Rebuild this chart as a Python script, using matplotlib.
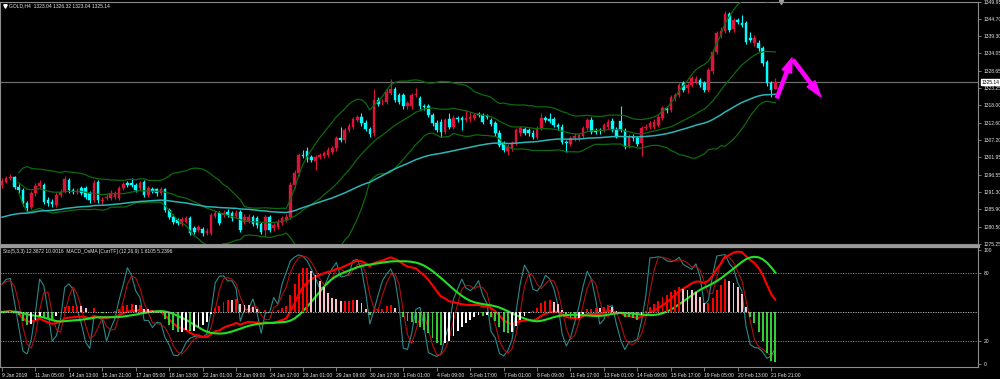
import numpy as np
import pandas as pd
import matplotlib
matplotlib.use("Agg")
import matplotlib.pyplot as plt
from matplotlib.lines import Line2D
import matplotlib.transforms as mtransforms

plt.rcParams["font.family"] = ["Liberation Sans", "DejaVu Sans"]

# ---------------- data ----------------
opens = [1293.4, 1294.4, 1295.4, 1295.8, 1292.9, 1291.8, 1287.7, 1286.7, 1290.8, 1293.1,
         1293.4, 1288.7, 1288.2, 1287.2, 1290.3, 1291.3, 1294.9, 1291.8, 1291.3, 1292.4,
         1292.4, 1290.8, 1288.7, 1294.4, 1288.5, 1289.3, 1289.3, 1289.8, 1289.3, 1292.4,
         1293.9, 1294.1, 1293.4, 1292.4, 1294.2, 1290.3, 1292.0, 1292.0, 1291.0, 1292.0,
         1285.7, 1283.6, 1282.6, 1281.3, 1282.1, 1283.1, 1280.0, 1279.5, 1279.7, 1278.5,
         1278.5, 1283.8, 1284.8, 1284.1, 1285.1, 1284.6, 1283.8, 1285.1, 1282.1, 1282.1,
         1283.4, 1283.1, 1281.3, 1279.5, 1283.4, 1280.0, 1280.5, 1281.6, 1282.6, 1283.6,
         1293.4, 1297.0, 1302.6, 1304.0, 1301.9, 1300.9, 1302.0, 1302.3, 1302.6, 1303.6,
         1304.7, 1307.8, 1307.2, 1310.3, 1311.4, 1313.4, 1314.3, 1312.6, 1310.6, 1309.3,
         1319.6, 1318.9, 1319.1, 1321.9, 1322.9, 1321.2, 1321.2, 1317.6, 1317.6, 1321.2,
         1320.1, 1317.8, 1317.8, 1315.0, 1312.6, 1312.9, 1309.8, 1313.6, 1311.4, 1314.1,
         1313.9, 1313.4, 1313.6, 1314.0, 1315.3, 1315.0, 1314.6, 1313.4, 1312.4, 1309.5,
         1306.4, 1304.0, 1304.7, 1306.4, 1309.3, 1310.6, 1310.3, 1309.5, 1308.3, 1310.9,
         1314.0, 1313.6, 1313.6, 1311.9, 1311.4, 1306.7, 1306.0, 1307.8, 1307.8, 1308.5,
         1310.9, 1313.4, 1310.3, 1310.3, 1310.3, 1311.4, 1313.2, 1310.5, 1313.2, 1310.3,
         1305.4, 1308.3, 1307.8, 1306.2, 1310.9, 1311.4, 1311.4, 1311.9, 1314.0, 1317.0,
         1316.5, 1320.1, 1321.1, 1324.7, 1323.2, 1324.2, 1325.3, 1325.8, 1324.7, 1322.7,
         1328.4, 1334.5, 1339.7, 1341.0, 1346.1, 1341.4, 1344.3, 1343.5, 1343.3, 1338.6,
         1337.1, 1337.3, 1335.5, 1331.4, 1324.7, 1323.04]
highs = [1295.6, 1296.2, 1296.8, 1296.3, 1293.6, 1292.3, 1288.4, 1291.5, 1293.9, 1295.0,
         1294.1, 1289.6, 1289.0, 1291.2, 1292.0, 1296.0, 1295.6, 1292.5, 1292.3, 1293.0,
         1293.1, 1291.5, 1294.9, 1295.0, 1289.8, 1290.6, 1291.8, 1291.6, 1293.1, 1294.4,
         1294.6, 1295.6, 1294.0, 1294.6, 1294.8, 1293.1, 1292.8, 1292.6, 1292.7, 1292.6,
         1286.4, 1284.3, 1283.3, 1283.6, 1283.9, 1283.8, 1280.8, 1281.1, 1280.4, 1280.1,
         1284.8, 1285.4, 1285.5, 1285.6, 1286.0, 1285.3, 1285.6, 1285.8, 1284.4, 1284.3,
         1284.1, 1283.8, 1282.0, 1284.1, 1284.1, 1281.8, 1282.8, 1283.8, 1284.4, 1294.2,
         1298.0, 1303.4, 1304.2, 1305.0, 1302.6, 1302.6, 1303.3, 1303.8, 1305.0, 1305.5,
         1308.6, 1311.4, 1311.0, 1312.4, 1314.4, 1315.1, 1315.5, 1313.3, 1311.3, 1323.0,
         1320.4, 1319.8, 1323.0, 1326.0, 1323.6, 1321.9, 1321.9, 1319.3, 1321.9, 1323.2,
         1320.8, 1318.5, 1318.5, 1315.7, 1313.3, 1313.6, 1314.1, 1315.5, 1314.9, 1314.8,
         1314.6, 1316.5, 1316.0, 1315.7, 1316.0, 1315.7, 1315.3, 1314.1, 1313.1, 1310.2,
         1307.1, 1305.9, 1307.1, 1311.0, 1311.6, 1311.3, 1311.0, 1310.2, 1311.6, 1315.5,
         1314.7, 1315.5, 1314.3, 1312.6, 1312.1, 1307.4, 1308.5, 1309.5, 1309.5, 1311.6,
         1314.1, 1314.5, 1311.0, 1311.0, 1312.6, 1313.6, 1313.9, 1311.2, 1317.7, 1311.0,
         1309.0, 1309.0, 1308.5, 1311.6, 1312.1, 1313.1, 1313.6, 1315.2, 1317.7, 1317.7,
         1321.3, 1321.8, 1324.9, 1325.4, 1324.9, 1327.0, 1326.9, 1326.5, 1325.4, 1329.6,
         1335.2, 1340.9, 1342.0, 1347.0, 1346.8, 1345.0, 1345.0, 1345.8, 1344.0, 1340.7,
         1339.6, 1338.0, 1336.2, 1332.1, 1325.5, 1326.32]
lows = [1292.6, 1293.9, 1294.8, 1292.2, 1290.9, 1287.0, 1285.4, 1286.0, 1290.1, 1292.5,
        1287.5, 1286.8, 1286.6, 1286.5, 1289.6, 1290.8, 1291.0, 1290.5, 1290.7, 1290.2,
        1289.0, 1287.9, 1288.0, 1287.8, 1287.6, 1288.7, 1288.6, 1289.1, 1288.6, 1291.8,
        1292.7, 1292.8, 1291.1, 1291.8, 1289.6, 1289.7, 1290.9, 1290.1, 1290.4, 1285.0,
        1282.8, 1281.3, 1281.0, 1280.6, 1281.5, 1277.9, 1278.3, 1278.8, 1277.7, 1277.8,
        1278.0, 1283.1, 1281.1, 1283.4, 1283.5, 1282.4, 1283.1, 1278.8, 1281.4, 1281.5,
        1280.6, 1280.2, 1278.3, 1277.3, 1278.8, 1279.3, 1279.8, 1280.9, 1281.9, 1282.9,
        1292.6, 1296.3, 1301.6, 1300.6, 1300.4, 1298.0, 1301.3, 1301.6, 1302.0, 1302.9,
        1304.0, 1306.5, 1306.4, 1309.6, 1310.7, 1312.7, 1311.7, 1309.9, 1308.3, 1308.6,
        1317.7, 1318.2, 1318.5, 1321.2, 1318.9, 1318.4, 1316.9, 1316.9, 1316.9, 1320.5,
        1316.9, 1316.6, 1314.3, 1311.7, 1309.6, 1308.3, 1309.1, 1310.7, 1310.7, 1312.9,
        1310.3, 1312.7, 1312.9, 1313.3, 1314.3, 1312.2, 1313.7, 1311.5, 1308.6, 1305.0,
        1303.5, 1302.6, 1304.0, 1305.7, 1308.6, 1308.8, 1308.6, 1307.6, 1307.6, 1310.2,
        1312.7, 1312.5, 1311.2, 1310.5, 1306.0, 1303.7, 1305.3, 1307.1, 1307.1, 1307.8,
        1310.2, 1309.1, 1309.1, 1309.2, 1309.6, 1310.7, 1309.8, 1307.8, 1309.6, 1304.5,
        1304.7, 1307.1, 1305.3, 1302.3, 1310.2, 1310.7, 1310.7, 1311.2, 1313.3, 1315.5,
        1315.8, 1319.4, 1320.4, 1322.0, 1321.9, 1323.5, 1324.6, 1323.5, 1322.0, 1322.0,
        1327.7, 1333.8, 1338.8, 1340.3, 1340.5, 1340.7, 1343.1, 1342.1, 1336.9, 1337.4,
        1336.4, 1334.8, 1330.2, 1324.0, 1320.6, 1323.04]
closes = [1294.7, 1295.4, 1295.8, 1292.9, 1291.8, 1287.7, 1286.2, 1290.8, 1293.1, 1293.9,
          1288.2, 1287.7, 1287.5, 1290.3, 1291.3, 1295.1, 1291.8, 1291.3, 1291.6, 1291.0,
          1289.8, 1288.7, 1294.1, 1288.7, 1288.9, 1289.8, 1291.0, 1290.8, 1292.4, 1293.6,
          1293.4, 1293.4, 1291.8, 1293.9, 1290.3, 1292.4, 1291.6, 1290.8, 1292.0, 1285.7,
          1283.6, 1282.1, 1281.8, 1282.8, 1283.1, 1278.7, 1279.0, 1280.3, 1278.5, 1279.3,
          1284.1, 1284.6, 1281.8, 1284.8, 1284.1, 1283.1, 1284.8, 1279.5, 1283.6, 1283.6,
          1281.3, 1281.0, 1279.0, 1283.4, 1279.5, 1281.0, 1282.1, 1283.1, 1283.6, 1293.4,
          1297.2, 1302.6, 1302.3, 1301.3, 1301.1, 1301.9, 1302.6, 1303.1, 1304.2, 1304.7,
          1307.8, 1307.2, 1310.3, 1311.6, 1313.6, 1314.3, 1312.4, 1310.6, 1309.1, 1319.6,
          1318.4, 1319.1, 1322.2, 1322.9, 1319.6, 1319.1, 1317.6, 1318.6, 1321.2, 1321.5,
          1317.6, 1317.4, 1315.0, 1312.4, 1310.3, 1309.8, 1313.4, 1311.4, 1314.2, 1313.6,
          1313.4, 1313.9, 1314.5, 1315.0, 1315.0, 1312.9, 1314.4, 1312.2, 1309.3, 1305.7,
          1304.2, 1305.2, 1306.4, 1310.3, 1310.9, 1309.5, 1309.3, 1308.3, 1310.9, 1313.9,
          1313.4, 1313.2, 1311.9, 1311.2, 1306.7, 1306.2, 1307.8, 1308.5, 1308.8, 1310.9,
          1313.4, 1309.8, 1309.8, 1309.9, 1311.9, 1312.9, 1310.5, 1308.3, 1310.3, 1305.2,
          1308.3, 1307.8, 1306.0, 1310.9, 1311.4, 1312.4, 1312.9, 1314.5, 1317.0, 1316.5,
          1320.6, 1321.1, 1324.2, 1322.7, 1324.2, 1326.3, 1326.0, 1324.2, 1322.7, 1328.9,
          1334.5, 1340.2, 1341.0, 1346.1, 1341.2, 1344.3, 1343.8, 1342.8, 1337.6, 1338.1,
          1338.6, 1335.5, 1330.9, 1324.7, 1322.7, 1325.14]

time_labels = ["9 Jan 2019", "11 Jan 05:00", "14 Jan 13:00", "15 Jan 21:00", "17 Jan 05:00",
               "18 Jan 13:00", "22 Jan 01:00", "23 Jan 09:00", "24 Jan 17:00", "28 Jan 01:00",
               "29 Jan 09:00", "30 Jan 17:00", "1 Feb 01:00", "4 Feb 09:00", "5 Feb 17:00",
               "7 Feb 01:00", "8 Feb 09:00", "11 Feb 17:00", "13 Feb 01:00", "14 Feb 09:00",
               "15 Feb 17:00", "19 Feb 05:00", "20 Feb 13:00", "21 Feb 21:00"]
price_ticks = [1349.95, 1344.70, 1339.30, 1334.05, 1328.65, 1323.25, 1318.00, 1312.60,
               1307.20, 1301.95, 1296.55, 1291.30, 1285.90, 1280.50, 1275.25]
stoch_ticks = [100, 80, 20, 0]
bid_price = 1325.14
ma_seed = 1283.1          # value of the moving average at the left edge
title_text = "GOLD,H4  1323.04 1326.32 1323.04 1325.14"
sub_text = "Sto(5,3,3) 12.3872 10.0016  MACD_OsMA [CurrTF] (12,26,9) 1.6105 5.2396"
# hand-drawn magenta arrows (bar index, price)
arrow_up = ((185.4, 1320.3), (189.0, 1332.6))
arrow_down = ((189.3, 1331.9), (195.9, 1320.6))

# ---------------- indicators ----------------
o = np.array(opens); h = np.array(highs); l = np.array(lows); c = np.array(closes)
n = len(c)
x = np.arange(n)
s = pd.Series(c)

bb_mid = s.rolling(20, min_periods=5).mean()
bb_sd = s.rolling(20, min_periods=5).std(ddof=0)
bb_up = bb_mid + 2 * bb_sd
bb_lo = bb_mid - 2 * bb_sd

alpha = 2.0 / (70 + 1)
ma = np.empty(n)
prev = ma_seed
for i in range(n):
    prev = prev + alpha * (c[i] - prev)
    ma[i] = prev

hh = pd.Series(h).rolling(5, min_periods=1).max()
ll = pd.Series(l).rolling(5, min_periods=1).min()
num = (s - ll).rolling(3, min_periods=1).sum()
den = (hh - ll).rolling(3, min_periods=1).sum()
stoch_k = 100 * num / den
stoch_d = stoch_k.rolling(3, min_periods=1).mean()

ema12 = s.ewm(span=12, adjust=False).mean()
ema26 = s.ewm(span=26, adjust=False).mean()
macd = ema12 - ema26
signal = macd.rolling(9, min_periods=1).mean()
osma = macd - signal
d_osma = osma.diff().fillna(0)
hist_colors = np.where(osma >= 0,
                       np.where(d_osma >= 0, "#ff0000", "#ffc0cb"),
                       np.where(d_osma <= 0, "#32cd32", "#ffffff"))

# ---------------- figure ----------------
W, H = 1000, 379
fig = plt.figure(figsize=(W / 100, H / 100), dpi=100, facecolor="black")

def fx(px):
    return px / W

def fy(py):
    return 1 - py / H

grey = "#8c8c8c"
txt = "#e6e6e6"
fs = 3.6
x_left = -0.48
x_right = x_left + 978 / 4.18

ax = fig.add_axes([0, fy(244), fx(978), (244 - 1.5) / H])
ax2 = fig.add_axes([0, fy(367), fx(978), (367 - 247) / H])
ax3 = fig.add_axes([0, fy(367), fx(978), (367 - 247) / H], sharex=ax2)
ax4 = fig.add_axes([0, fy(367), fx(978), (367 - 247) / H], sharex=ax2)

for a in (ax, ax2, ax3, ax4):
    a.set_facecolor("none")
    a.set_xlim(x_left, x_right)
ax.set_facecolor("black")
ax2.set_facecolor("black")

# candles
up = c >= o
cols = np.where(up, "#dc143c", "#00ffff")
ax.vlines(x, l, h, colors=cols, lw=0.8, zorder=2)
body_bot = np.minimum(o, c)
body_h = np.maximum(np.abs(c - o), 0.15)
ax.bar(x, body_h, bottom=body_bot, width=0.62, color=cols, edgecolor=cols, lw=0.3, zorder=3)

# bands and MA
for band in (bb_up, bb_mid, bb_lo):
    ax.plot(x, band, color="#0d6a0d", lw=0.9, zorder=4)
ax.plot(x, ma, color="#2bb5b5", lw=1.1, zorder=5)
ax.axhline(bid_price, color="#6e6e6e", lw=0.9, zorder=1)

ax.set_ylim(1275.17, 1350.0)
ax.yaxis.tick_right()
ax.set_yticks(price_ticks)
ax.set_yticklabels([f"{v:.2f}" for v in price_ticks])
ax.tick_params(axis="y", colors=grey, labelcolor=txt, labelsize=fs, length=2.5,
               width=0.6, pad=1.5)
ax.set_xticks([])
for sp in ax.spines.values():
    sp.set_color(grey)
    sp.set_linewidth(0.8)

trans = mtransforms.blended_transform_factory(ax.transAxes, ax.transData)
ax.text(1.004, bid_price, f"{bid_price:.2f}", transform=trans, fontsize=fs, color="black",
        va="center", ha="left", clip_on=False,
        bbox=dict(boxstyle="square,pad=0.15", fc="white", ec="white"))

ax.annotate("", xy=arrow_up[1], xytext=arrow_up[0],
            arrowprops=dict(arrowstyle="simple,head_length=1.6,head_width=1.1,tail_width=0.35",
                            color="#ff00ff", mutation_scale=6.5, shrinkA=0, shrinkB=0),
            annotation_clip=False, zorder=6)
ax.annotate("", xy=arrow_down[1], xytext=arrow_down[0],
            arrowprops=dict(arrowstyle="simple,head_length=1.8,head_width=1.1,tail_width=0.35",
                            color="#ff00ff", mutation_scale=6.5, shrinkA=0, shrinkB=0),
            annotation_clip=False, zorder=6)
ax.plot([0.7986], [1.0], marker="v", color="#a0a0a0", ms=3, transform=ax.transAxes,
        clip_on=False)

# sub window: stochastic
ax2.set_ylim(-2.6, 102.6)
ax2.plot(x, stoch_k, color="#2a8a8a", lw=0.8, zorder=3)
ax2.plot(x, stoch_d, color="#b01010", lw=0.8, zorder=3)
for lvl in (80, 20):
    ax2.axhline(lvl, color="#909090", lw=0.6, ls=(0, (1.5, 1.5)), zorder=1)
ax2.yaxis.tick_right()
ax2.set_yticks(stoch_ticks)
ax2.set_yticklabels([str(v) for v in stoch_ticks])
ax2.tick_params(axis="y", colors=grey, labelcolor=txt, labelsize=fs, length=2.5,
                width=0.6, pad=1.5)
ax2.set_xticks(np.arange(0, 8 * len(time_labels), 8))
ax2.set_xticklabels(time_labels, ha="left")
ax2.tick_params(axis="x", colors=grey, labelcolor=txt, labelsize=fs, length=3,
                width=0.6, pad=1)
for sp in ax2.spines.values():
    sp.set_color(grey)
    sp.set_linewidth(0.8)

# histogram (own scale)
ax4.set_ylim(-(367 - 312) / 13.8, (312 - 247) / 13.8)
ax4.bar(x, osma, width=0.45, color=hist_colors, lw=0, zorder=2)
ax4.axhline(0, color="#c8c8c8", lw=0.6, ls=(0, (1.5, 1.5)))
ax4.axis("off")

# MACD lines
ax3.set_ylim(-(367 - 312) / 7.55, (312 - 247) / 7.55)
ax3.plot(x, macd, color="#ff0000", lw=1.5, zorder=4)
ax3.plot(x, signal, color="#22e022", lw=1.5, zorder=4)
ax3.axis("off")

# separator and labels
fig.add_artist(Line2D([0, fx(978)], [fy(245.5), fy(245.5)], lw=2.3, color="#9a9a9a"))
fig.add_artist(Line2D([fx(4.5)], [fy(5.5)], marker="v", ms=2.5, color="white", lw=0))
fig.text(fx(9), fy(5.5), title_text, color=txt, fontsize=fs, va="center", ha="left")
fig.text(fx(3), fy(251), sub_text, color=txt, fontsize=fs, va="center", ha="left")

fig.savefig("out.png", dpi=100, facecolor="black")
